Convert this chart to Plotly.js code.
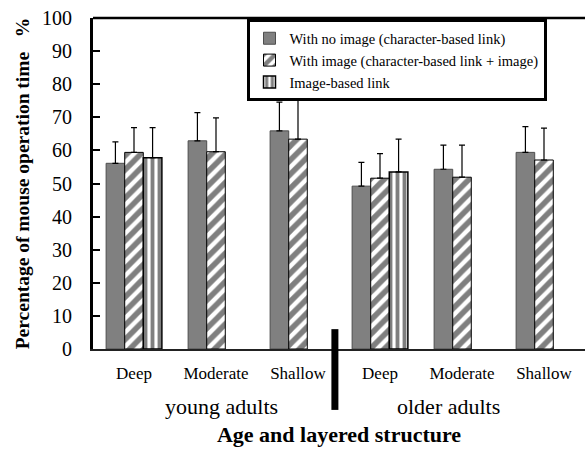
<!DOCTYPE html>
<html>
<head>
<meta charset="utf-8">
<script src="https://cdn.plot.ly/plotly-3.0.1.min.js"></script>
<style>html,body{margin:0;padding:0;background:#fff;}#chart{width:585px;height:449px;}</style>
</head>
<body>
<div id="chart"></div>
<script>
// ---- data ----
const ageGroups = ["young adults", "older adults"];
const structures = ["Deep", "Moderate", "Shallow"];
const seriesNames = [
  "With no image (character-based link)",
  "With image (character-based link + image)",
  "Image-based link"
];
const noImageMean  = [56.1, 62.9, 65.9, 49.2, 54.3, 59.4];
const noImageSD    = [6.5, 8.5, 8.7, 7.2, 7.3, 7.8];
const withImageMean = [59.4, 59.6, 63.4, 51.6, 51.9, 57.1];
const withImageSD   = [7.5, 10.2, 12.0, 7.4, 9.7, 9.6];
const imageLinkMean = [57.8, null, null, 53.5, null, null];
const imageLinkSD   = [9.1, null, null, 9.9, null, null];
const yTickVals = [0,10,20,30,40,50,60,70,80,90,100];

// ---- build ----
const cats = [];
const catLabels = [];
ageGroups.forEach(g => structures.forEach(s => { cats.push(g + "|" + s); catLabels.push(s); }));
const zeros = cats.map(() => 0);
const FONT = "Liberation Serif, Times New Roman, serif";

function errY(arr){
  return {type:'data', symmetric:false, array:arr, arrayminus:zeros, color:'#000', thickness:1.2, width:3, visible:true};
}

const traces = [
  {type:'bar', name:seriesNames[0], x:cats, y:noImageMean, error_y:errY(noImageSD),
   marker:{color:'#808080', line:{color:'#4d4d4d', width:1}}},
  {type:'bar', name:seriesNames[1], x:cats, y:withImageMean, error_y:errY(withImageSD),
   marker:{color:'#ffffff', line:{color:'#000', width:1},
     pattern:{shape:'/', fgcolor:'#000', bgcolor:'#fff', size:10, solidity:0.55, fillmode:'overlay'}}},
  {type:'bar', name:seriesNames[2], x:cats, y:imageLinkMean, error_y:errY(imageLinkSD),
   marker:{color:'#ffffff', line:{color:'#000', width:1.5},
     pattern:{shape:'|', fgcolor:'#000', bgcolor:'#fff', size:7, solidity:0.55, fillmode:'overlay'}}}
];

const layout = {
  width:585, height:449,
  margin:{l:93, r:0, t:18, b:100},
  paper_bgcolor:'#fff', plot_bgcolor:'#fff',
  font:{family:FONT, color:'#000', size:16},
  barmode:'group', bargap:0.32, bargroupgap:0,
  showlegend:true,
  legend:{x:0.312, y:0.996, xanchor:'left', yanchor:'top',
    bgcolor:'#fff', bordercolor:'#000', borderwidth:3,
    font:{family:FONT, size:14.5, color:'#000'}, tracegroupgap:0, itemwidth:30},
  xaxis:{type:'category', tickvals:cats, ticktext:catLabels,
    showline:true, linecolor:'#222', linewidth:2, ticks:'', showgrid:false, zeroline:false,
    tickfont:{family:FONT, size:17}, ticklabelstandoff:8, range:[-0.5, 5.5],
    title:{text:'<b>Age and layered structure</b>', font:{family:FONT, size:22}, standoff:44}},
  yaxis:{range:[0,100], tickvals:yTickVals, showline:true, linecolor:'#000', linewidth:3,
    ticks:'inside', ticklen:7, tickwidth:2, tickcolor:'#000', showgrid:false, zeroline:false,
    tickfont:{family:FONT, size:20}, ticklabelstandoff:14,
    title:{text:'<b>Percentage of mouse operation time\u00a0\u00a0\u00a0%</b>', font:{family:FONT, size:19.5}, standoff:8}},
  shapes:[
    {type:'line', xref:'paper', yref:'paper', x0:0, x1:1, y0:1, y1:1, line:{color:'#000', width:2.5}},
    {type:'line', xref:'x', yref:'paper', x0:2.45, x1:2.45, y0:0.06, y1:-0.184, line:{color:'#000', width:7}}
  ],
  annotations:[
    {text:ageGroups[0], xref:'paper', yref:'paper', x:0.262, y:-0.175, xanchor:'center', yanchor:'middle', showarrow:false, font:{family:FONT, size:22}},
    {text:ageGroups[1], xref:'paper', yref:'paper', x:0.722, y:-0.175, xanchor:'center', yanchor:'middle', showarrow:false, font:{family:FONT, size:22}}
  ]
};

Plotly.newPlot('chart', traces, layout, {displayModeBar:false, staticPlot:true});
</script>
</body>
</html>
